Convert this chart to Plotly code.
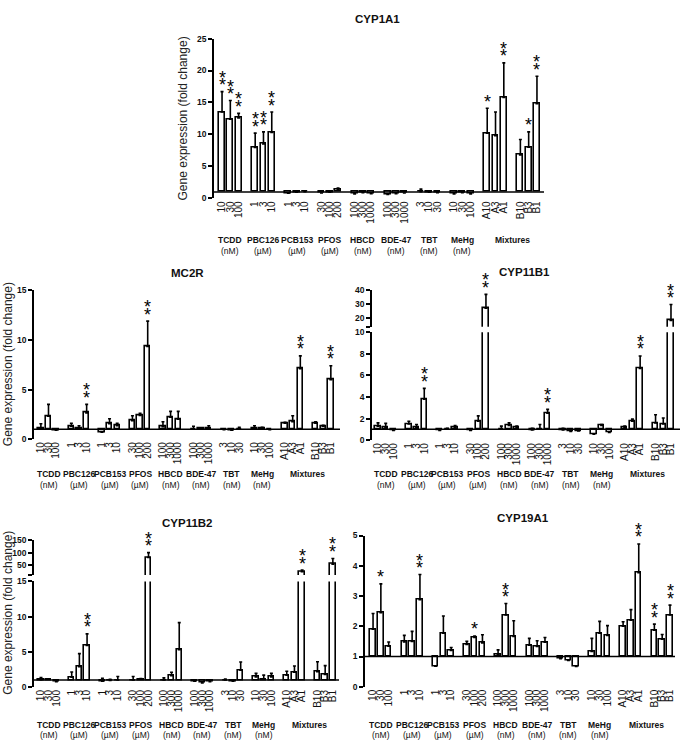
import plotly.graph_objects as go

W, H = 683, 748
FONT = "Liberation Sans, Arial, sans-serif"

# ---------------- data ----------------
group_names = ["TCDD", "PBC126", "PCB153", "PFOS", "HBCD", "BDE-47", "TBT", "MeHg", "Mixtures"]
group_units = ["(nM)", "(µM)", "(µM)", "(µM)", "(nM)", "(nM)", "(nM)", "(nM)", ""]
dose_labels = ["10", "30", "100", "1", "3", "10", "1", "3", "10", "30", "100", "200",
               "100", "300", "1000", "100", "300", "1000", "3", "10", "30", "10", "30", "100",
               "A10", "A3", "A1", "B10", "B3", "B1"]

cyp1a1_mean = [13.5, 12.4, 12.6, 7.97, 8.5, 10.3, 0.8, 0.95, 1.05, 0.85, 0.95, 1.35,
               0.7, 0.9, 0.75, 0.6, 0.75, 0.85, 1.05, 0.95, 0.9, 0.7, 0.9, 0.7,
               10.2, 9.8, 15.8, 6.8, 8.0, 14.8]
cyp1a1_err = [16.7, 15.3, 13.3, 10.2, 10.4, 13.5, 0.8, 1.05, 1.2, 0.85, 1.15, 1.6,
              0.7, 1.0, 0.75, 0.6, 0.75, 0.85, 1.45, 1.1, 0.9, 0.7, 1.05, 0.7,
              14.1, 13.5, 21.2, 9.2, 10.4, 19.1]
cyp1a1_stars = [2, 2, 2, 2, 2, 2, 0, 0, 0, 0, 0, 0, 0, 0, 0, 0, 0, 0, 0, 0, 0, 0, 0, 0,
                1, 0, 2, 0, 1, 2]

mc2r_mean = [1.1, 2.3, 0.9, 1.3, 1.05, 2.65, 0.7, 1.55, 1.35, 1.85, 2.4, 9.35,
             1.25, 2.2, 2.0, 1.0, 1.05, 1.05, 0.95, 0.9, 1.0, 1.05, 1.1, 0.95,
             1.6, 1.75, 7.1, 1.6, 1.3, 6.0]
mc2r_err = [1.55, 3.5, 0.9, 1.6, 1.35, 3.5, 0.7, 2.05, 1.6, 2.35, 2.6, 11.9,
            1.75, 2.8, 2.8, 1.3, 1.1, 1.35, 0.95, 0.9, 1.2, 1.35, 1.2, 0.95,
            1.7, 2.35, 8.4, 1.75, 1.4, 7.4]
mc2r_stars = [0, 0, 0, 0, 0, 2, 0, 0, 0, 0, 0, 2, 0, 0, 0, 0, 0, 0, 0, 0, 0, 0, 0, 0,
              0, 0, 2, 0, 0, 2]

cyp11b1_mean = [1.3, 1.2, 0.9, 1.5, 1.15, 3.8, 0.9, 1.05, 1.2, 0.9, 1.75, 27.2,
                1.05, 1.35, 1.2, 0.95, 1.05, 2.5, 0.95, 0.8, 0.85, 0.55, 1.35, 0.7,
                1.2, 1.75, 6.65, 1.6, 1.5, 18.6]
cyp11b1_err = [1.6, 1.55, 0.9, 1.75, 1.45, 4.8, 0.9, 1.1, 1.35, 0.95, 2.25, 37.0,
               1.3, 1.6, 1.3, 1.1, 1.45, 2.85, 1.1, 0.8, 1.0, 0.55, 1.45, 0.7,
               1.3, 1.95, 7.8, 2.35, 2.05, 29.8]
cyp11b1_stars = [0, 0, 0, 0, 0, 2, 0, 0, 0, 0, 0, 2, 0, 0, 0, 0, 0, 2, 0, 0, 0, 0, 0, 0,
                 0, 0, 2, 0, 0, 2]

cyp11b2_mean = [1.05, 1.1, 0.75, 1.4, 2.9, 5.9, 0.85, 0.95, 1.0, 1.0, 1.1, 81.0,
                1.0, 1.6, 5.3, 0.85, 0.6, 0.75, 1.0, 0.85, 2.4, 1.45, 1.1, 1.45,
                1.7, 2.1, 25.0, 2.2, 1.8, 55.0]
cyp11b2_err = [1.35, 1.15, 0.75, 2.15, 4.75, 7.55, 1.25, 1.1, 1.5, 1.5, 1.2, 100.0,
               1.3, 2.1, 9.15, 1.0, 0.6, 0.75, 1.15, 0.95, 3.55, 1.95, 1.7, 1.95,
               2.25, 3.0, 32.0, 3.6, 3.05, 77.0]
cyp11b2_stars = [0, 0, 0, 0, 0, 2, 0, 0, 0, 0, 0, 2, 0, 0, 0, 0, 0, 0, 0, 0, 0, 0, 0, 0,
                 0, 0, 2, 0, 0, 2]

cyp19a1_mean = [1.9, 2.45, 1.34, 1.48, 1.5, 2.88, 0.68, 1.77, 1.2, 1.4, 1.63, 1.45,
                1.08, 2.37, 1.66, 1.37, 1.33, 1.47, 0.93, 0.87, 0.67, 1.17, 1.77, 1.7,
                2.0, 2.2, 3.77, 1.87, 1.57, 2.37]
cyp19a1_err = [2.42, 3.4, 1.48, 1.7, 1.83, 3.71, 0.68, 2.34, 1.3, 1.5, 1.68, 1.72,
               1.22, 2.75, 2.18, 1.6, 1.52, 1.63, 0.93, 0.87, 0.67, 1.6, 2.16, 2.02,
               2.15, 2.55, 4.72, 2.07, 1.73, 2.7]
cyp19a1_stars = [0, 1, 0, 0, 0, 2, 0, 0, 0, 0, 1, 0, 0, 2, 0, 0, 0, 0, 0, 0, 0, 0, 0, 0,
                 0, 0, 2, 2, 0, 2]

# ---------------- layout helpers ----------------
positions = [(i // 3) * 4 + i % 3 for i in range(len(dose_labels))]
group_centers = [g * 4 + 1 for g in range(8)] + [35]


def pxx(p):
    return p / W


def pxy(p):
    return 1 - p / H


fig = go.Figure()
layout = {}
annotations = []
shapes = []
counter = {"x": 0, "y": 0}


def axis_names(letter):
    counter[letter] += 1
    n = counter[letter]
    ref = letter if n == 1 else f"{letter}{n}"
    name = f"{letter}axis" if n == 1 else f"{letter}axis{n}"
    return ref, name


def add_panel(title, title_pos, mean, err, stars, xpx, xr, segments, label_y, ylabel=None):
    xref, xname = axis_names("x")
    seg_refs = []
    for k, seg in enumerate(segments):
        yref, yname = axis_names("y")
        seg_refs.append(yref)
        tv = list(seg["ticks"])
        tt = [str(t) for t in tv]
        if k > 0:
            tv = [seg["range"][0]] + tv
            tt = [""] + tt
        layout[yname] = dict(
            domain=[pxy(seg["py"][0]), pxy(seg["py"][1])], range=seg["range"], anchor=xref,
            showline=True, linecolor="black", linewidth=1.5, ticks="outside", ticklen=4,
            tickwidth=1.5, tickcolor="black", tickvals=tv, ticktext=tt, showgrid=False,
            zeroline=False, tickfont=dict(family=FONT, size=8.5, color="#111", weight="bold"),
        )
        plus = [max(e - m, 0) for m, e in zip(mean, err)]
        fig.add_trace(go.Bar(
            x=positions, y=[m - 1 for m in mean], base=1, width=0.7,
            xaxis=xref, yaxis=yref, showlegend=False,
            marker=dict(color="white", line=dict(color="black", width=1.6)),
            error_y=dict(type="data", symmetric=False, array=plus, arrayminus=[0] * len(plus),
                         color="black", thickness=1.6, width=1.5),
        ))
        if k == 0:
            shapes.append(dict(type="line", xref=f"{xref} domain", yref=yref, x0=0, x1=1,
                               y0=1, y1=1, line=dict(color="black", width=1.5), layer="above"))
    layout[xname] = dict(
        domain=[pxx(xpx[0]), pxx(xpx[1])], range=xr, anchor=seg_refs[0], showline=False,
        showgrid=False, zeroline=False, ticks="", tickvals=positions, ticktext=dose_labels,
        tickangle=-90, tickfont=dict(family=FONT, size=10, color="#111"),
    )
    # significance stars (stacked asterisks)
    for p, e, s in zip(positions, err, stars):
        if s == 0:
            continue
        yref = seg_refs[0]
        if len(segments) > 1 and e > segments[0]["range"][1]:
            yref = seg_refs[1]
        for j in range(s):
            annotations.append(dict(x=p, y=e, xref=xref, yref=yref, text="*", showarrow=False,
                                    yanchor="middle", yshift=6.5 + 7.5 * j,
                                    font=dict(family=FONT, size=18, color="black")))
    # group labels
    for c, name, unit in zip(group_centers, group_names, group_units):
        annotations.append(dict(x=c, y=pxy(label_y[0]), xref=xref, yref="paper",
                                text=f"<b>{name}</b>", showarrow=False, yanchor="middle",
                                font=dict(family=FONT, size=8.5, color="#111")))
        if unit:
            annotations.append(dict(x=c, y=pxy(label_y[1]), xref=xref, yref="paper",
                                    text=unit, showarrow=False, yanchor="middle",
                                    font=dict(family=FONT, size=8.5, color="#111")))
    annotations.append(dict(x=pxx(title_pos[0]), y=pxy(title_pos[1]), xref="paper", yref="paper",
                            text=f"<b>{title}</b>", showarrow=False, xanchor="center",
                            yanchor="middle", font=dict(family=FONT, size=11.5, color="#111")))
    if ylabel:
        annotations.append(dict(x=pxx(ylabel[0]), y=pxy(ylabel[1]), xref="paper", yref="paper",
                                text="Gene expression (fold change)", textangle=-90,
                                showarrow=False, xanchor="center", yanchor="middle",
                                font=dict(family=FONT, size=12, color="#222")))


add_panel("CYP1A1", (377, 14), cyp1a1_mean, cyp1a1_err, cyp1a1_stars,
          (214, 544), [-0.97, 38.85],
          [dict(py=(196, 34), range=[0, 25], ticks=[0, 5, 10, 15, 20, 25])],
          (238, 249), ylabel=(183, 115))

add_panel("MC2R", (187, 272), mc2r_mean, mc2r_err, mc2r_stars,
          (34, 340), [-0.9, 39.2],
          [dict(py=(440, 289.3), range=[0, 15], ticks=[0, 5, 10, 15])],
          (475, 486), ylabel=(8, 364))

add_panel("CYP11B1", (524, 271), cyp11b1_mean, cyp11b1_err, cyp11b1_stars,
          (372, 680), [-0.78, 39.17],
          [dict(py=(441, 331.7), range=[0, 10], ticks=[0, 2, 4, 6, 8, 10]),
           dict(py=(326, 289), range=[14.2, 40], ticks=[20, 30, 40])],
          (475, 486))

add_panel("CYP11B2", (187, 525), cyp11b2_mean, cyp11b2_err, cyp11b2_stars,
          (34, 339), [-0.91, 38.8],
          [dict(py=(691.3, 584.3), range=[0, 15], ticks=[0, 5, 10, 15]),
           dict(py=(577.7, 542), range=[12.7, 150], ticks=[50, 100, 150])],
          (730, 740), ylabel=(8, 616))

add_panel("CYP19A1", (523, 520), cyp19a1_mean, cyp19a1_err, cyp19a1_stars,
          (365, 675), [-1.03, 38.64],
          [dict(py=(691, 537.7), range=[0, 5], ticks=[0, 1, 2, 3, 4, 5])],
          (730, 740))

fig.update_layout(
    width=W, height=H, margin=dict(l=0, r=0, t=0, b=0),
    paper_bgcolor="white", plot_bgcolor="white", bargap=0,
    annotations=annotations, shapes=shapes, **layout,
)

fig.write_html("out.html")
